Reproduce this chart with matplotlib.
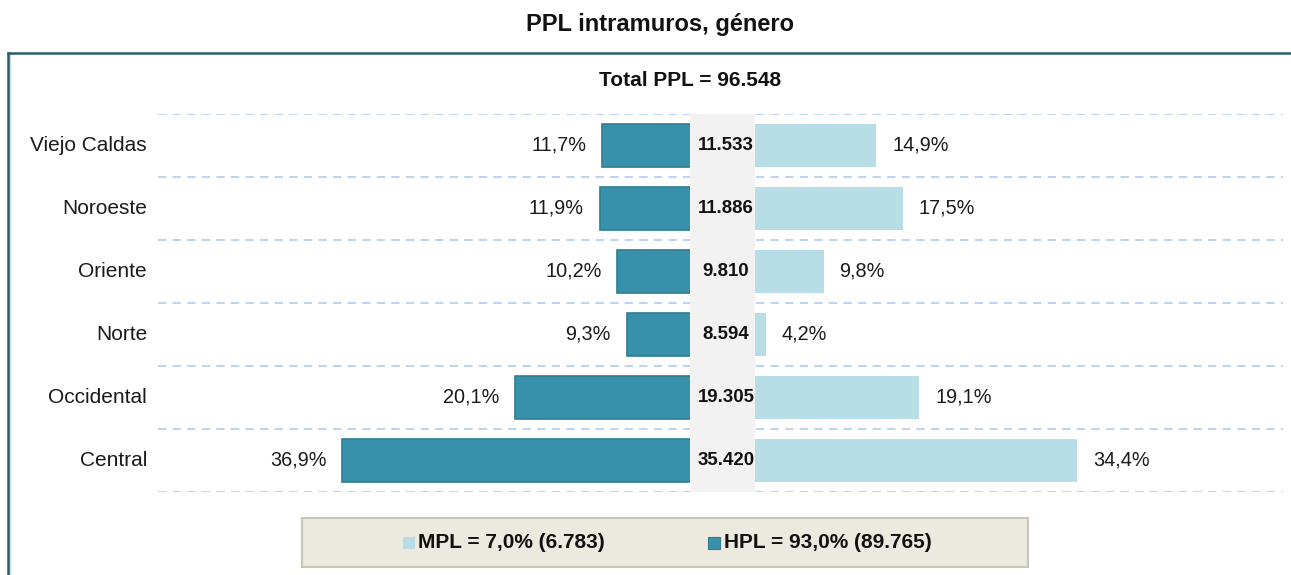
import matplotlib
matplotlib.use("Agg")
import matplotlib.pyplot as plt
from matplotlib.patches import Rectangle
from matplotlib.lines import Line2D
import matplotlib.transforms as mtransforms

plt.rcParams['font.family'] = ['Liberation Sans', 'DejaVu Sans']

# ---- data ----
regions = ["Viejo Caldas", "Noroeste", "Oriente", "Norte", "Occidental", "Central"]
hpl_pct = [11.7, 11.9, 10.2, 9.3, 20.1, 36.9]
mpl_pct = [14.9, 17.5, 9.8, 4.2, 19.1, 34.4]
totals = [11533, 11886, 9810, 8594, 19305, 35420]
total_ppl = 96548
mpl_share, mpl_count = 7.0, 6783
hpl_share, hpl_count = 93.0, 89765
title = "PPL intramuros, género"

DARK = "#3891aa"
DARK_EDGE = "#2f7d94"
LIGHT = "#b7dde7"
GRID = "#bfd4ee"
BAND = "#f2f2f2"
FRAME = "#2d5d6b"

W, H = 1291, 575
fig = plt.figure(figsize=(W / 100, H / 100), dpi=100)


def fx(px):
    return px / W


def fy(py):
    return 1 - py / H


def fmt_num(n):
    return f"{n:,}".replace(",", ".")


def fmt_pct(p):
    return f"{p:.1f}".replace(".", ",") + "%"


ax = fig.add_axes([fx(158), fy(491.7), fx(1283) - fx(158), fy(114) - fy(491.7)])
ax.set_xlim(-54.8, 54.4)
ax.set_ylim(len(regions) - 0.5, -0.5)
ax.axis("off")

ypos = list(range(len(regions)))
bh = 0.68
ax.barh(ypos, [-p for p in hpl_pct], height=bh, color=DARK, edgecolor=DARK_EDGE,
        linewidth=1.2, zorder=2)
ax.barh(ypos, mpl_pct, height=bh, color=LIGHT, edgecolor="none", zorder=2)

# grid lines between rows
for b in range(len(regions) + 1):
    ax.axhline(b - 0.5, color=GRID, lw=1.5, ls=(0, (4, 3)), zorder=1)

# central band
half = 3.155
ax.axvspan(-half, half, color=BAND, zorder=3, lw=0)

label_tr = mtransforms.blended_transform_factory(fig.transFigure, ax.transData)
gap = 1.55
for i, (h, m, t, r) in enumerate(zip(hpl_pct, mpl_pct, totals, regions)):
    ax.text(-h - gap, i, fmt_pct(h), ha="right", va="center", fontsize=14.3, color="#1a1a1a", zorder=4)
    ax.text(m + gap, i, fmt_pct(m), ha="left", va="center", fontsize=14.3, color="#1a1a1a", zorder=4)
    ax.text(0.35, i, fmt_num(t), ha="center", va="center", fontsize=13.4, fontweight="bold",
            color="#111111", zorder=5)
    fig.text(fx(147), i, r, ha="right", va="center", fontsize=15, color="#1a1a1a", transform=label_tr)

# title and total
fig.text(fx(660), fy(24), title, ha="center", va="center", fontsize=17, fontweight="bold", color="#111111")
fig.text(fx(690), fy(81), f"Total PPL = {fmt_num(total_ppl)}", ha="center", va="center",
         fontsize=15, fontweight="bold", color="#111111")

# frame lines (left and top)
fig.add_artist(Line2D([fx(9.5), fx(9.5)], [fy(53), 0], transform=fig.transFigure, color="#bcd7df", lw=1.2))
fig.add_artist(Line2D([fx(8), fx(8)], [fy(53), 0], transform=fig.transFigure, color=FRAME, lw=1.8))
fig.add_artist(Line2D([fx(8), 1], [fy(53), fy(53)], transform=fig.transFigure, color=FRAME, lw=1.8))

# legend box
fig.add_artist(Rectangle((fx(302), fy(567)), fx(1028) - fx(302), fy(518) - fy(567),
                         transform=fig.transFigure, facecolor="#ece9df", edgecolor="#cac6b7", lw=1.5))
sq = 12
fig.add_artist(Rectangle((fx(403), fy(549)), fx(sq), sq / H, transform=fig.transFigure,
                         facecolor=LIGHT, edgecolor="none"))
fig.text(fx(418), fy(543), f"MPL = {fmt_pct(mpl_share)} ({fmt_num(mpl_count)})", ha="left", va="center",
         fontsize=15, fontweight="bold", color="#111111")
fig.add_artist(Rectangle((fx(708), fy(549)), fx(sq), sq / H, transform=fig.transFigure,
                         facecolor=DARK, edgecolor=DARK_EDGE, lw=0.8))
fig.text(fx(724), fy(543), f"HPL = {fmt_pct(hpl_share)} ({fmt_num(hpl_count)})", ha="left", va="center",
         fontsize=15, fontweight="bold", color="#111111")

fig.savefig("out.png", dpi=100, facecolor="white")
